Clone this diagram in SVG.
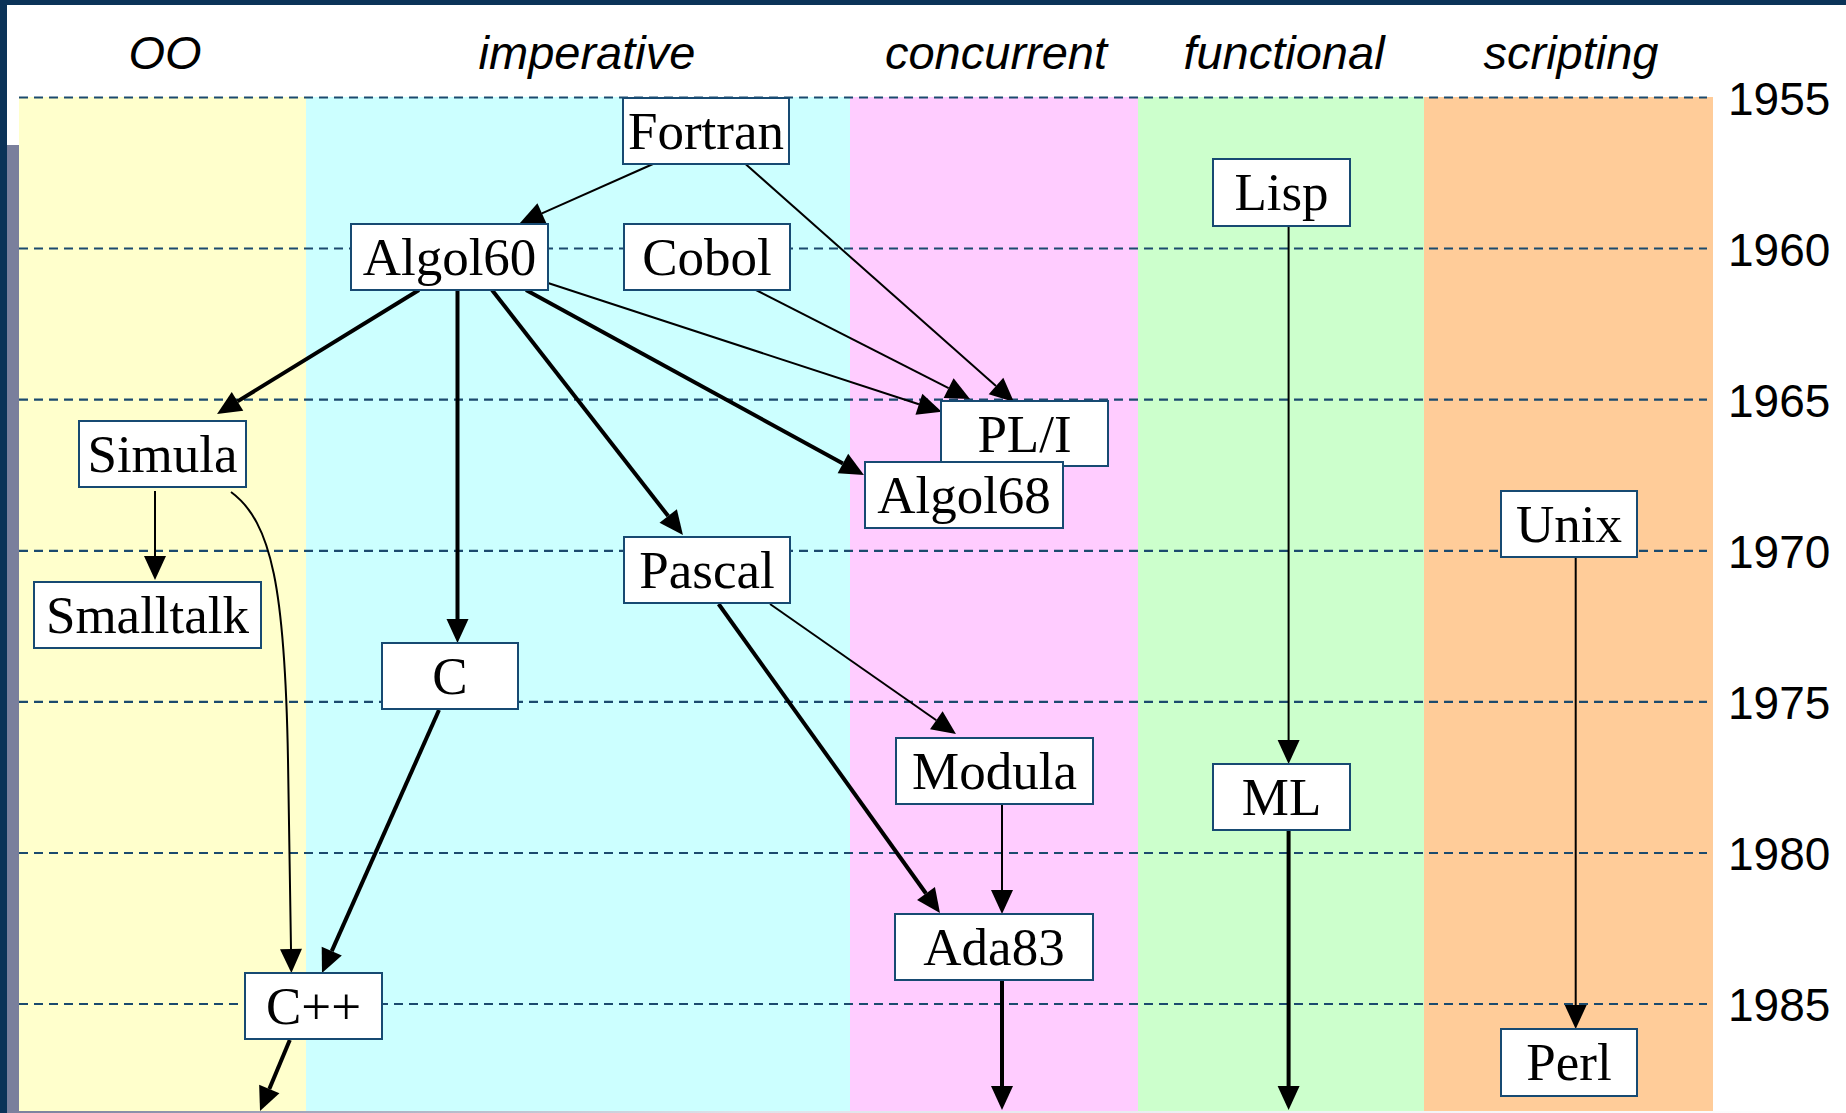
<svg xmlns="http://www.w3.org/2000/svg" width="1846" height="1113" viewBox="0 0 1846 1113">
<defs>
<style>
.hdr{font-family:"Liberation Sans",Arial,sans-serif;font-style:italic;font-size:47px;fill:#000;text-anchor:middle}
.yr{font-family:"Liberation Sans",Arial,sans-serif;font-size:46px;fill:#000}
.grid{stroke:#1b4a6e;stroke-width:2.2;stroke-dasharray:9 6;fill:none}
.box{fill:#fff;stroke:#174a72;stroke-width:2}
.lbl{font-family:"Liberation Serif","Times New Roman",serif;font-size:53px;fill:#000;text-anchor:middle}
.thin{stroke:#000;stroke-width:2;fill:none;marker-end:url(#ah)}
.thick{stroke:#000;stroke-width:4;fill:none;marker-end:url(#ah)}
</style>
<marker id="ah" markerUnits="userSpaceOnUse" markerWidth="26" markerHeight="24" refX="0" refY="11" orient="auto" overflow="visible">
<path d="M0,0 L24,11 L0,22 z" fill="#000"/>
</marker>
<linearGradient id="bot" x1="0" y1="0" x2="1" y2="0">
<stop offset="0" stop-color="#7a7f9c"/>
<stop offset="0.4" stop-color="#dfe2ea"/>
<stop offset="1" stop-color="#ffffff"/>
</linearGradient>
</defs>
<rect x="0" y="0" width="1846" height="1113" fill="#fff"/>
<g id="frame">
<rect x="0" y="0" width="1846" height="5" fill="#0b3358"/>
<rect x="0" y="0" width="7" height="1113" fill="#0b3358"/>
<rect x="7" y="145" width="12" height="968" fill="#7a7f9c"/>
<rect x="7" y="1111" width="1839" height="2" fill="url(#bot)"/>
</g>
<g id="columns">
<rect x="19" y="97" width="288" height="1014" fill="#ffffcc"/>
<rect x="306" y="97" width="544" height="1014" fill="#ccffff"/>
<rect x="850" y="97" width="288" height="1014" fill="#ffccff"/>
<rect x="1138" y="97" width="287" height="1014" fill="#ccffcc"/>
<rect x="1424" y="97" width="289" height="1014" fill="#ffcc99"/>
</g>
<g id="headers">
<text class="hdr" x="165" y="69">OO</text>
<text class="hdr" x="587" y="69">imperative</text>
<text class="hdr" x="996" y="69">concurrent</text>
<text class="hdr" x="1284" y="69">functional</text>
<text class="hdr" x="1571" y="69">scripting</text>
</g>
<g id="gridlines">
<line class="grid" x1="19" y1="97.5" x2="1707" y2="97.5"/>
<line class="grid" x1="19" y1="248.5" x2="1707" y2="248.5"/>
<line class="grid" x1="19" y1="399.7" x2="1707" y2="399.7"/>
<line class="grid" x1="19" y1="550.8" x2="1707" y2="550.8"/>
<line class="grid" x1="19" y1="701.9" x2="1707" y2="701.9"/>
<line class="grid" x1="19" y1="853" x2="1707" y2="853"/>
<line class="grid" x1="19" y1="1004" x2="1707" y2="1004"/>
</g>
<g id="years">
<text class="yr" x="1728" y="115">1955</text>
<text class="yr" x="1728" y="266">1960</text>
<text class="yr" x="1728" y="417">1965</text>
<text class="yr" x="1728" y="568">1970</text>
<text class="yr" x="1728" y="719">1975</text>
<text class="yr" x="1728" y="870">1980</text>
<text class="yr" x="1728" y="1021">1985</text>
</g>
<g id="connectors">
<path class="thin" d="M653,164 L541.9,213.3"/>
<path class="thin" d="M745.5,164 L996,386.1"/>
<path class="thin" d="M756,290 L948.6,388.1"/>
<path class="thin" d="M548,283 L918.9,404.2"/>
<path class="thick" d="M526,290 L842.9,463.5"/>
<path class="thick" d="M419,290 L237.5,401.4"/>
<path class="thick" d="M457.5,290 L457.5,619"/>
<path class="thick" d="M492,290 L668.2,516.1"/>
<path class="thin" d="M155,491 L155,556"/>
<path class="thin" d="M231,492 C272,522 285,590 288,760 L291,949"/>
<path class="thick" d="M439,710 L331.75,951.1"/>
<path class="thin" d="M770,604 L936.3,720.25"/>
<path class="thick" d="M718.6,604 L926,893.5"/>
<path class="thin" d="M1002,804 L1002,890"/>
<path class="thick" d="M1002,980 L1002,1086"/>
<path class="thin" d="M1288.6,226 L1288.6,740"/>
<path class="thick" d="M1288.6,831 L1288.6,1086"/>
<path class="thin" d="M1575.7,557 L1575.7,1005"/>
<path class="thick" d="M289.8,1040 L269.3,1088.9"/>
</g>
<g id="n-fortran"><rect class="box" x="623" y="98" width="166" height="66"/><text class="lbl" x="706" y="149">Fortran</text></g>
<g id="n-algol60"><rect class="box" x="351" y="224" width="197" height="66"/><text class="lbl" x="449.5" y="275">Algol60</text></g>
<g id="n-cobol"><rect class="box" x="624" y="224" width="166" height="66"/><text class="lbl" x="707" y="275">Cobol</text></g>
<g id="n-lisp"><rect class="box" x="1213" y="159" width="137" height="67"/><text class="lbl" x="1281.5" y="210">Lisp</text></g>
<g id="n-simula"><rect class="box" x="79" y="421" width="167" height="66"/><text class="lbl" x="162.5" y="472">Simula</text></g>
<g id="n-smalltalk"><rect class="box" x="34" y="582" width="227" height="66"/><text class="lbl" x="147.5" y="633">Smalltalk</text></g>
<g id="n-c"><rect class="box" x="382" y="643" width="136" height="66"/><text class="lbl" x="450" y="694">C</text></g>
<g id="n-pli"><rect class="box" x="941" y="401" width="167" height="65"/><text class="lbl" x="1024.5" y="452">PL/I</text></g>
<g id="n-algol68"><rect class="box" x="865" y="462" width="198" height="66"/><text class="lbl" x="964" y="513">Algol68</text></g>
<g id="n-pascal"><rect class="box" x="624" y="537" width="166" height="66"/><text class="lbl" x="707" y="588">Pascal</text></g>
<g id="n-unix"><rect class="box" x="1501" y="491" width="136" height="66"/><text class="lbl" x="1569" y="542">Unix</text></g>
<g id="n-modula"><rect class="box" x="896" y="738" width="197" height="66"/><text class="lbl" x="994.5" y="789">Modula</text></g>
<g id="n-ada83"><rect class="box" x="895" y="914" width="198" height="66"/><text class="lbl" x="994" y="965">Ada83</text></g>
<g id="n-ml"><rect class="box" x="1213" y="764" width="137" height="66"/><text class="lbl" x="1281.5" y="815">ML</text></g>
<g id="n-cpp"><rect class="box" x="245" y="973" width="137" height="66"/><text class="lbl" x="313.5" y="1024">C++</text></g>
<g id="n-perl"><rect class="box" x="1501" y="1029" width="136" height="67"/><text class="lbl" x="1569" y="1080">Perl</text></g>
</svg>
